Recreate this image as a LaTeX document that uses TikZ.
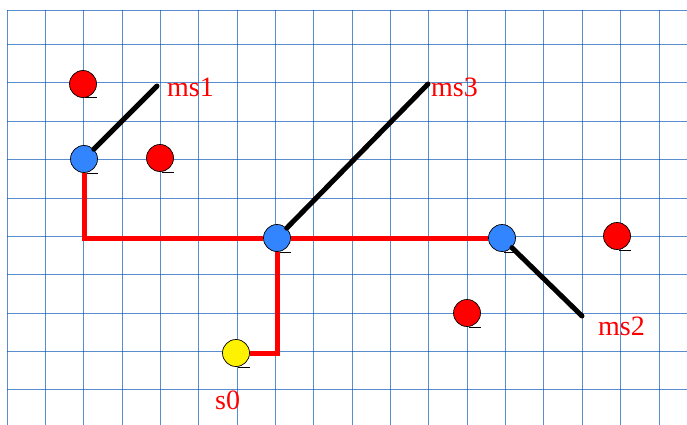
\documentclass[tikz,border=0pt]{standalone}
\usepackage{fontspec}
\setmainfont{Liberation Serif}
\usetikzlibrary{positioning}

\tikzset{
  gridline/.style={draw=blue!55!cyan!70!black, opacity=0.65, line width=0.9pt},
  site/.style={circle, draw=black, line width=0.7pt, minimum size=27pt, inner sep=0pt},
  msnode/.style={site, fill=red},
  relay/.style={site, fill=blue!60!cyan!80!white},
  sink/.style={site, fill=yellow},
  tree/.style={draw=red, line width=5pt},
  link/.style={draw=black, line width=5pt, line cap=round},
  lbl/.style={text=red, font=\fontsize{28}{30}\selectfont, inner sep=0pt, anchor=base west}
}

\begin{document}
\begin{tikzpicture}[x=1pt, y=-1pt]
  \useasboundingbox (0,0) rectangle (687,425);

  % grid
  \foreach \k in {0,...,17}
    \draw[gridline] ({7+38.35*\k},10) -- ({7+38.35*\k},425);
  \draw[gridline] (7,10) -- (687,10);
  \foreach \k in {0,...,9}
    \draw[gridline] (7,{44.6+38.35*\k}) -- (687,{44.6+38.35*\k});

  % sensors
  \node[msnode] (r1) at (83,84) {};
  \node[msnode] (r2) at (160,158) {};
  \node[msnode] (r3) at (467,313) {};
  \node[msnode] (r4) at (617,236) {};

  \node[relay] (b1) at (84,159) {};
  \node[relay] (b2) at (277,238) {};
  \node[relay] (b3) at (502,238) {};

  \node[sink] (s0) at (236,353) {};

  % small marks under the dots
  \foreach \n in {r1,r2,r3,r4,b1,b2,b3,s0}
    \draw[line width=0.7pt] ([xshift=2pt]\n.south) -- ([xshift=14pt]\n.south);

  % red tree
  \draw[tree] (b1) |- (b2);
  \draw[tree] (b2) -- (b3);
  \draw[tree] (b2) |- (s0);

  % mobile sinks
  \coordinate (m1) at (157,86);
  \coordinate (m3) at (428,84);
  \coordinate (m2) at (582,316);
  \draw[link] (b1) -- (m1);
  \draw[link] (b2) -- (m3);
  \draw[link] (b3) -- (m2);

  \node[lbl] (ms1) at (167,97) {ms1};
  \node[lbl] (ms3) at (431,97) {ms3};
  \node[lbl] (ms2) at (598,335) {ms2};
  \node[lbl] (s0lbl) at (215,409) {s0};
\end{tikzpicture}
\end{document}
